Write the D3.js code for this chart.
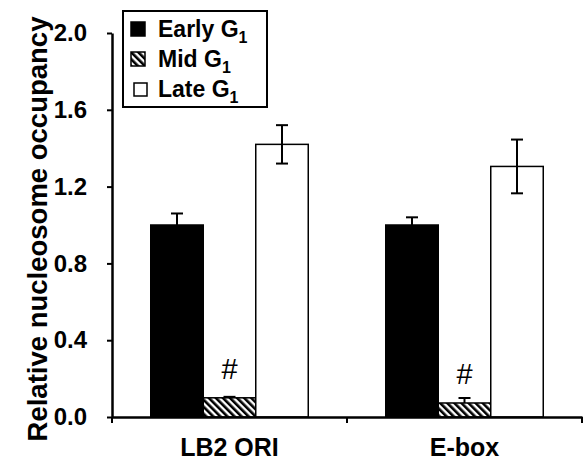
<!DOCTYPE html>
<html>
<head>
<meta charset="utf-8">
<script src="https://cdn.jsdelivr.net/npm/d3@7"></script>
<style>
  body { margin: 0; background: #fff; }
  text { font-family: "Liberation Sans", Arial, sans-serif; font-weight: bold; }
</style>
</head>
<body>
<div id="chart"></div>
<script>
// Chart data
const sites = ["LB2 ORI", "E-box"];
const phases = ["Early", "Mid", "Late"];
const earlyValues = [1.00, 1.00];
const earlyErrors = [0.06, 0.04];
const midValues = [0.10, 0.073];
const midErrors = [0.005, 0.026];
const lateValues = [1.42, 1.305];
const lateErrors = [0.10, 0.14];
const markers = ["#", "#"];
const yTicks = [0, 0.4, 0.8, 1.2, 1.6, 2.0];

const width = 584, height = 461;
const margin = { top: 33, right: 2, bottom: 44, left: 112 };

const svg = d3.select("#chart").append("svg")
  .attr("width", width)
  .attr("height", height);

// hatch pattern for the mid bars
const defs = svg.append("defs");
const pat = defs.append("pattern")
  .attr("id", "hatch")
  .attr("patternUnits", "userSpaceOnUse")
  .attr("width", 5)
  .attr("height", 5)
  .attr("patternTransform", "rotate(-45)");
pat.append("rect").attr("width", 5).attr("height", 5).attr("fill", "#fff");
pat.append("rect").attr("width", 2.6).attr("height", 5).attr("fill", "#000");

const fills = { Early: "#000", Mid: "url(#hatch)", Late: "#fff" };

// build rows for each bar
const rows = [];
sites.forEach((s, i) => {
  rows.push({ site: s, phase: "Early", value: earlyValues[i], err: earlyErrors[i] });
  rows.push({ site: s, phase: "Mid", value: midValues[i], err: midErrors[i], mark: markers[i] });
  rows.push({ site: s, phase: "Late", value: lateValues[i], err: lateErrors[i] });
});

const x0 = d3.scaleBand()
  .domain(sites)
  .range([margin.left, width - margin.right])
  .paddingInner(0)
  .paddingOuter(0);

const x1 = d3.scaleBand()
  .domain(phases)
  .range([0, 157.5]);

const groupOffset = (x0.bandwidth() - 157.5) / 2;

const y = d3.scaleLinear()
  .domain([0, 2.0])
  .range([height - margin.bottom, margin.top]);

// bars
const bars = svg.append("g");
bars.selectAll("rect")
  .data(rows)
  .enter()
  .append("rect")
  .attr("x", d => x0(d.site) + groupOffset + x1(d.phase))
  .attr("y", d => y(d.value))
  .attr("width", x1.bandwidth())
  .attr("height", d => y(0) - y(d.value))
  .attr("fill", d => fills[d.phase])
  .attr("stroke", "#000")
  .attr("stroke-width", 1.5);

// error bars (upper only for Early/Mid, both for Late)
const errG = svg.append("g").attr("stroke", "#000").attr("stroke-width", 2);
rows.forEach(d => {
  const cx = x0(d.site) + groupOffset + x1(d.phase) + x1.bandwidth() / 2;
  const top = y(d.value + d.err);
  const bottom = d.phase === "Late" ? y(d.value - d.err) : y(d.value);
  errG.append("line").attr("x1", cx).attr("x2", cx).attr("y1", top).attr("y2", bottom);
  errG.append("line").attr("x1", cx - 6).attr("x2", cx + 6).attr("y1", top).attr("y2", top);
  if (d.phase === "Late") {
    errG.append("line").attr("x1", cx - 6).attr("x2", cx + 6).attr("y1", bottom).attr("y2", bottom);
  }
  if (d.mark) {
    svg.append("text")
      .attr("x", cx)
      .attr("y", y(d.value) - 19)
      .attr("text-anchor", "middle")
      .style("font-weight", "normal")
      .style("font-size", "29px")
      .text(d.mark);
  }
});

// y axis
const yAxis = svg.append("g")
  .attr("transform", "translate(" + margin.left + ",0)")
  .call(d3.axisLeft(y).tickValues(yTicks).tickFormat(d3.format(".1f")).tickSize(5).tickSizeOuter(0));
yAxis.select(".domain").attr("stroke-width", 2.5);
yAxis.selectAll(".tick line").attr("stroke-width", 2);
yAxis.selectAll(".tick text")
  .attr("x", -25)
  .style("font-size", "24px")
  .style("font-family", "Liberation Sans, Arial, sans-serif")
  .style("font-weight", "bold")
  .attr("fill", "#000");

// x axis
const xAxis = svg.append("g")
  .attr("transform", "translate(0," + y(0) + ")")
  .call(d3.axisBottom(x0).tickSize(0).tickSizeOuter(0));
xAxis.select(".domain").attr("stroke-width", 2.5);
xAxis.selectAll(".tick text")
  .attr("y", 39)
  .attr("dy", 0)
  .style("font-size", "25px")
  .style("font-family", "Liberation Sans, Arial, sans-serif")
  .style("font-weight", "bold")
  .attr("fill", "#000");
// x ticks at band boundaries
const bounds = [x0.range()[0], x0(sites[1]), x0.range()[1]];
xAxis.selectAll(".bound")
  .data(bounds)
  .enter()
  .append("line")
  .attr("x1", d => d).attr("x2", d => d)
  .attr("y1", 0).attr("y2", 6)
  .attr("stroke", "#000")
  .attr("stroke-width", 2);

// y axis title
svg.append("text")
  .attr("transform", "translate(47,229) rotate(-90)")
  .attr("text-anchor", "middle")
  .style("font-size", "27.5px")
  .text("Relative nucleosome occupancy");

// legend
const legend = svg.append("g").attr("transform", "translate(123,11)");
legend.append("rect")
  .attr("width", 144).attr("height", 96)
  .attr("fill", "#fff").attr("stroke", "#000").attr("stroke-width", 2);
const legendItems = legend.selectAll(".item")
  .data(phases)
  .enter()
  .append("g")
  .attr("class", "item")
  .attr("transform", (d, i) => "translate(0," + (26 + 30 * i) + ")");
legendItems.append("rect")
  .attr("x", (d, i) => i === 2 ? 11 : 8)
  .attr("y", (d, i) => i === 2 ? -14 : -15)
  .attr("width", (d, i) => i === 2 ? 13 : 14)
  .attr("height", (d, i) => i === 2 ? 13 : 14)
  .attr("fill", d => fills[d])
  .attr("stroke", "#000").attr("stroke-width", 1.5);
const lt = legendItems.append("text")
  .attr("x", 35).attr("y", 0)
  .style("font-size", "23px");
lt.append("tspan").text(d => d + " G");
lt.append("tspan").attr("dy", 6).style("font-size", "16px").text("1");
</script>
</body>
</html>
